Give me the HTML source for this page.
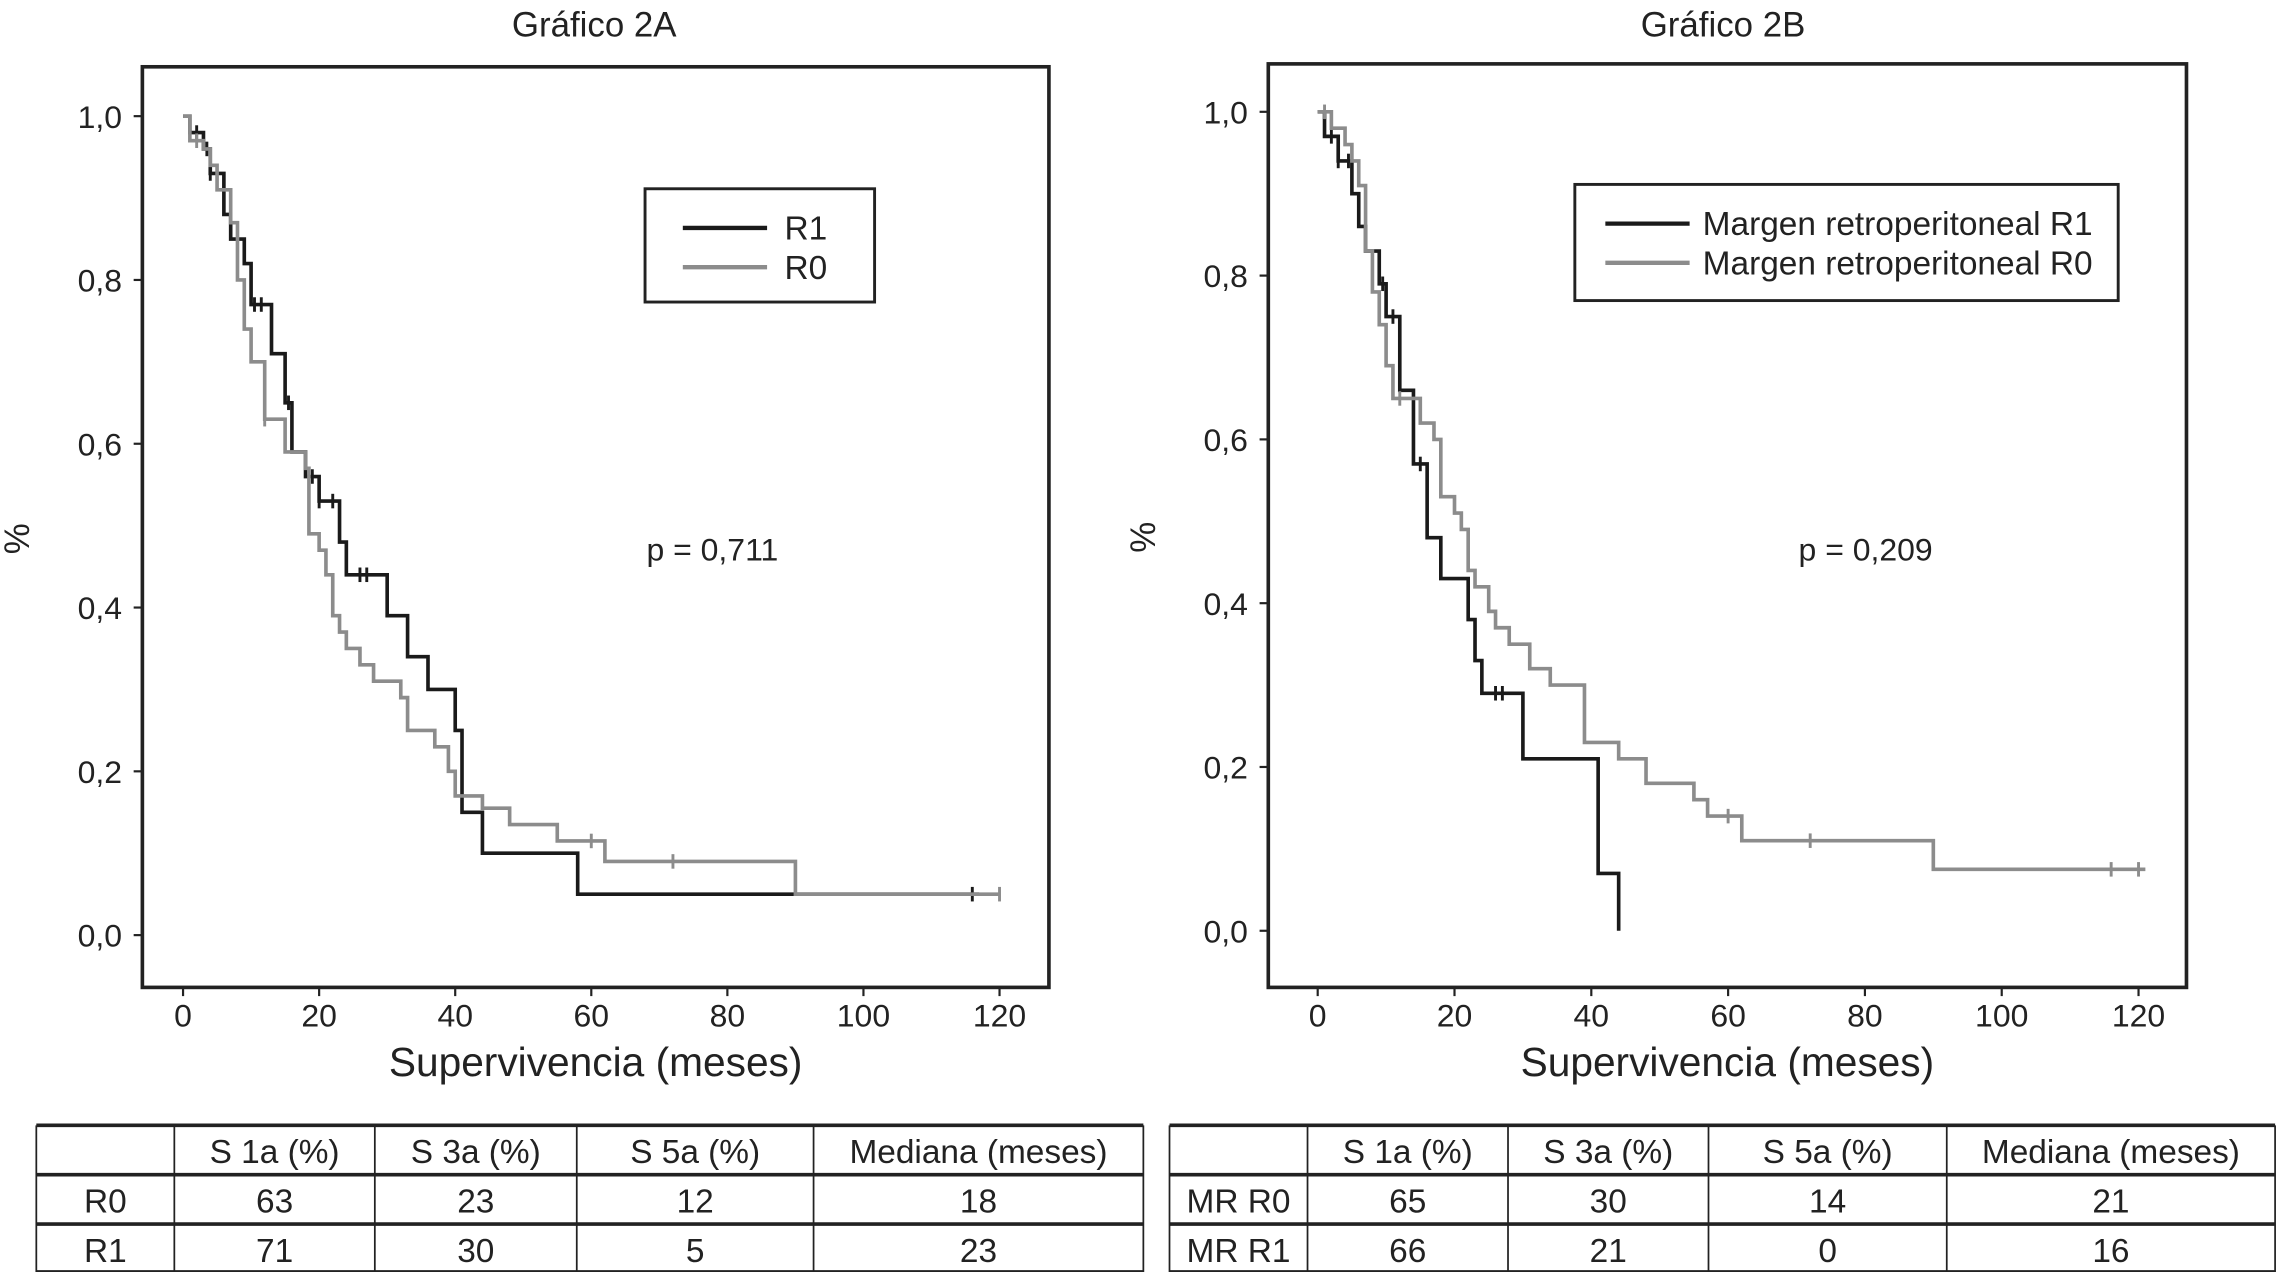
<!DOCTYPE html>
<html><head><meta charset="utf-8"><style>
html,body{margin:0;padding:0;background:#fff;}
svg{display:block;font-family:"Liberation Sans",sans-serif;}
</style></head><body>
<svg id="s" width="2278" height="1272" viewBox="0 0 1568 876" preserveAspectRatio="none" xmlns="http://www.w3.org/2000/svg"></svg>
<script>
// Chart A data
const aR1Times=[0,1,3,4,6,7,9,10,13,15,16,18,20,23,24,30,33,36,40,41,44,58];
const aR1Surv=[1.0,0.98,0.96,0.93,0.88,0.85,0.82,0.77,0.71,0.65,0.59,0.56,0.53,0.48,0.44,0.39,0.34,0.30,0.25,0.15,0.10,0.05];
const aR1End=117;
const aR1Censor=[2,3.5,4,10.5,11.5,15.5,19,20,22,26,27,116];
const aR0Times=[0,1,3,4,5,7,8,9,10,12,15,18,18.5,20,21,22,23,24,26,28,32,33,37,39,40,44,48,55,62,90];
const aR0Surv=[1.0,0.97,0.96,0.94,0.91,0.87,0.80,0.74,0.70,0.63,0.59,0.57,0.49,0.47,0.44,0.39,0.37,0.35,0.33,0.31,0.29,0.25,0.23,0.20,0.17,0.155,0.135,0.115,0.09,0.05];
const aR0End=120;
const aR0Censor=[2,12,60,72,120];
// Chart B data
const bR1Times=[0,1,3,5,6,7,9,10,12,14,16,18,22,23,24,30,41,44];
const bR1Surv=[1.0,0.97,0.94,0.90,0.86,0.83,0.79,0.75,0.66,0.57,0.48,0.43,0.38,0.33,0.29,0.21,0.07,0.0];
const bR1End=44;
const bR1Censor=[2,3,4.5,9.5,11,15,26,27];
const bR0Times=[0,2,4,5,6,7,8,9,10,11,15,17,18,20,21,22,23,25,26,28,31,34,39,44,48,55,57,62,90];
const bR0Surv=[1.0,0.98,0.96,0.94,0.91,0.83,0.78,0.74,0.69,0.65,0.62,0.60,0.53,0.51,0.49,0.44,0.42,0.39,0.37,0.35,0.32,0.30,0.23,0.21,0.18,0.16,0.14,0.11,0.075];
const bR0End=121;
const bR0Censor=[1,12,60,72,116,120];
const xTicks=[0,20,40,60,80,100,120];
const yTicks=[0,0.2,0.4,0.6,0.8,1.0];
const yTickLabels=["0,0","0,2","0,4","0,6","0,8","1,0"];

const NS="http://www.w3.org/2000/svg";
const svg=document.getElementById('s');
function el(tag,attrs,parent,text){const e=document.createElementNS(NS,tag);for(const k in attrs)e.setAttribute(k,attrs[k]);if(text!==undefined)e.textContent=text;(parent||svg).appendChild(e);return e;}

function stepAt(times,surv,t){let s=surv[0];for(let i=0;i<times.length;i++){if(times[i]<=t)s=surv[i];}return s;}

function chart(cfg){
  const g=el('g',{});
  
  
  const X=t=>cfg.x0+(cfg.x120-cfg.x0)*t/120;
  const Y=v=>cfg.y0+(cfg.y1-cfg.y0)*v;
  const t=el('text',{x:cfg.titleX,y:25,'font-size':24,'text-anchor':'middle',fill:'#222'},g,cfg.title);
  
  
  const fr=el('rect',{x:cfg.fl,y:cfg.ft,width:cfg.fr-cfg.fl,height:cfg.fb-cfg.ft,fill:'none',stroke:'#222','stroke-width':2.5},g);
  
  
  yTicks.forEach((v,i)=>{
    el('line',{x1:cfg.fl-6,x2:cfg.fl,y1:Y(v),y2:Y(v),stroke:'#222','stroke-width':1.5},g);
    const l=el('text',{x:cfg.fl-14,y:Y(v)+8,'font-size':22,'text-anchor':'end',fill:'#222'},g,yTickLabels[i]);
    
    
  });
  xTicks.forEach(v=>{
    el('line',{x1:X(v),x2:X(v),y1:cfg.fb,y2:cfg.fb+6,stroke:'#222','stroke-width':1.5},g);
    const l=el('text',{x:X(v),y:cfg.fb+27,'font-size':22,'text-anchor':'middle',fill:'#222'},g,String(v));
    
    
  });
  const yt=el('text',{x:0,y:0,'font-size':24,'text-anchor':'middle',fill:'#222',transform:`translate(${cfg.fl-78},${(cfg.ft+cfg.fb)/2+8}) rotate(-90)`},g,'%');
  
  
  const xt=el('text',{x:(cfg.fl+cfg.fr)/2,y:741,'font-size':28,'text-anchor':'middle',fill:'#222'},g,'Supervivencia (meses)');
  
  
  cfg.series.forEach(s=>{
    let d=`M${X(s.times[0])},${Y(s.surv[0])}`;
    for(let i=1;i<s.times.length;i++){d+=` H${X(s.times[i])} V${Y(s.surv[i])}`;}
    d+=` H${X(s.end)}`;
    const p=el('path',{d:d,fill:'none',stroke:s.color,'stroke-width':2.5},g);
    
    
    s.censor.forEach(c=>{
      const v=stepAt(s.times,s.surv,c);
      const m=el('line',{x1:X(c),x2:X(c),y1:Y(v)-5,y2:Y(v)+5,stroke:s.color,'stroke-width':2},g);
      
      
    });
  });
  const lg=el('g',{},g);
  
  
  const L=cfg.legend;
  el('rect',{x:L.x,y:L.y,width:L.w,height:L.h,fill:'#fff',stroke:'#222','stroke-width':2},lg);
  cfg.series.forEach((s,i)=>{
    const yy=L.y+27+i*27;
    el('line',{x1:L.lx1,x2:L.lx2,y1:yy,y2:yy,stroke:s.color,'stroke-width':3},lg);
    const e=el('text',{x:L.tx,y:yy+8,'font-size':23,fill:'#222'},lg,s.label);
    
    
  });
  const pt=el('text',{x:cfg.px,y:386,'font-size':22,fill:'#222'},g,cfg.p);
  
  
}

chart({name:'chart-2a',title:'Gráfico 2A',titleX:409,fl:98,ft:46,fr:722,fb:680,x0:126,x120:688,y0:644,y1:80,
  series:[{name:'r1-curve',label:'R1',color:'#1a1a1a',times:aR1Times,surv:aR1Surv,end:aR1End,censor:aR1Censor},
          {name:'r0-curve',label:'R0',color:'#8c8c8c',times:aR0Times,surv:aR0Surv,end:aR0End,censor:aR0Censor}],
  legend:{x:444,y:130,w:158,h:78,lx1:470,lx2:528,tx:540},px:445,p:'p = 0,711'});
chart({name:'chart-2b',title:'Gráfico 2B',titleX:1186,fl:873,ft:44,fr:1505,fb:680,x0:907,x120:1472,y0:641,y1:77,
  series:[{name:'mr-r1-curve',label:'Margen retroperitoneal R1',color:'#1a1a1a',times:bR1Times,surv:bR1Surv,end:bR1End,censor:bR1Censor},
          {name:'mr-r0-curve',label:'Margen retroperitoneal R0',color:'#8c8c8c',times:bR0Times,surv:bR0Surv,end:bR0End,censor:bR0Censor}],
  legend:{x:1084,y:127,w:374,h:80,lx1:1105,lx2:1163,tx:1172},px:1238,p:'p = 0,209'});

function table(name,x0,x1,cols,rows){
  const g=el('g',{});
  
  
  const ys=[775,809,843,876];
  ys.forEach(y=>el('line',{x1:x0,x2:x1,y1:y,y2:y,stroke:'#222','stroke-width':2.5},g));
  const xs=[x0].concat(cols).concat([x1]);
  xs.forEach(x=>el('line',{x1:x,x2:x,y1:ys[0],y2:ys[3],stroke:'#222','stroke-width':1.2},g));
  rows.forEach((r,ri)=>{
    r.forEach((c,ci)=>{
      const cx=(xs[ci]+xs[ci+1])/2;
      const e=el('text',{x:cx,y:ys[ri]+26,'font-size':23,'text-anchor':'middle',fill:'#222'},g,c);
      
      
    });
  });
}
table('table-2a',25,787,[120,258,397,560],[["","S 1a (%)","S 3a (%)","S 5a (%)","Mediana (meses)"],["R0","63","23","12","18"],["R1","71","30","5","23"]]);
table('table-2b',805,1566,[900,1038,1176,1340],[["","S 1a (%)","S 3a (%)","S 5a (%)","Mediana (meses)"],["MR R0","65","30","14","21"],["MR R1","66","21","0","16"]]);
</script>
</body></html>
